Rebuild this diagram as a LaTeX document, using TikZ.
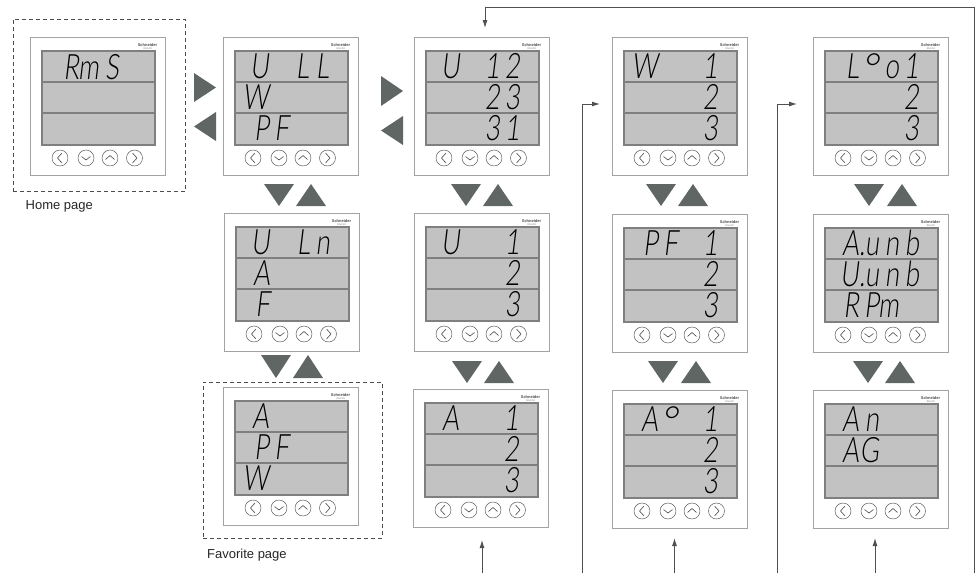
\documentclass[tikz,border=0pt]{standalone}
\usepackage{fontspec}
\usepackage{graphicx}
\setmainfont{Liberation Sans}
\newfontfamily\lcdfont[FakeSlant=0.12,FakeStretch=0.74]{Lato Light}
\usetikzlibrary{calc,arrows.meta}
\definecolor{tri}{HTML}{5F6664}
\definecolor{lcdfill}{HTML}{C2C2C2}
\definecolor{lcdline}{HTML}{7F7F7F}
\definecolor{panelline}{HTML}{A3A3A3}
\definecolor{flowline}{HTML}{505050}
\tikzset{
  panelbox/.style={draw=panelline,line width=0.9pt,fill=white,minimum width=135pt,minimum height=138pt,inner sep=0pt,outer sep=0pt,anchor=north west},
  lcdbox/.style={draw=lcdline,line width=1.3pt,fill=lcdfill,minimum width=113pt,minimum height=94pt,inner sep=0pt,outer sep=0pt},
  btn/.style={circle,draw=black!70,line width=0.45pt,fill=white,minimum size=16pt,inner sep=0pt},
  chev/.style={draw=black!70,line width=0.6pt},
  lcdtext/.style={inner sep=0pt,outer sep=0pt,anchor=base west,font=\lcdfont\fontsize{35}{35}\selectfont,text=black},
  logotop/.style={inner sep=0pt,font=\bfseries\fontsize{4}{4}\selectfont,text=black!70},
  logobot/.style={inner sep=0pt,font=\fontsize{2.6}{3}\selectfont,text=black!50},
  dashbox/.style={draw=black!70,line width=0.9pt,dash pattern=on 4pt off 3pt},
  caption/.style={inner sep=0pt,anchor=base west,font=\fontsize{13}{13}\selectfont,text=black!85},
  flow/.style={draw=flowline,line width=0.9pt,-{Latex[length=8pt,width=5pt]}},
}
\newcommand{\meter}[3]{%
  \node[panelbox] (#1) at (#2,#3) {};
  \node[lcdbox] (#1lcd) at ($(#1.north west)+(68.5,61)$) {};
  \draw[draw=lcdline,line width=1.2pt] ($(#1lcd.west)+(0,-16)$) -- ($(#1lcd.east)+(0,-16)$);
  \draw[draw=lcdline,line width=1.2pt] ($(#1lcd.west)+(0,15)$) -- ($(#1lcd.east)+(0,15)$);
  \node[logotop] (#1logoa) at ($(#1.north west)+(117.5,8)$) {Schneider};
  \node[logobot] (#1logob) at ($(#1.north west)+(118,11.5)$) {Electric};
  \node[btn] (#1ba) at ($(#1.north west)+(30,121)$) {};
  \node[btn] (#1bb) at ($(#1.north west)+(56,121)$) {};
  \node[btn] (#1bc) at ($(#1.north west)+(80,121)$) {};
  \node[btn] (#1bd) at ($(#1.north west)+(104.5,121)$) {};
  \draw[chev] ($(#1ba)+(2,-5)$) -- ($(#1ba)+(-2.5,0)$) -- ($(#1ba)+(2,5)$);
  \draw[chev] ($(#1bb)+(-4.5,-1.5)$) -- ($(#1bb)+(0,2)$) -- ($(#1bb)+(4.5,-1.5)$);
  \draw[chev] ($(#1bc)+(-4.5,1.5)$) -- ($(#1bc)+(0,-2.5)$) -- ($(#1bc)+(4.5,1.5)$);
  \draw[chev] ($(#1bd)+(-2,-5)$) -- ($(#1bd)+(2.5,0)$) -- ($(#1bd)+(-2,5)$);
}
\newcommand{\dgt}[1]{\makebox[20pt][r]{#1}}
% name, row id, dx, baseline dy, four cells
\newcommand{\lcdrow}[8]{%
  \node[lcdtext] (#1#2) at ($(#1.north west)+(#3,#4)$) {\dgt{#5}\dgt{#6}\dgt{#7}\dgt{#8}};
}
\newcommand{\rowa}[5]{\lcdrow{#1}{ra}{26}{41}{#2}{#3}{#4}{#5}}
\newcommand{\rowb}[5]{\lcdrow{#1}{rb}{26}{72}{#2}{#3}{#4}{#5}}
\newcommand{\rowc}[5]{\lcdrow{#1}{rc}{26}{103}{#2}{#3}{#4}{#5}}
\newcommand{\trdown}[4]{\fill[tri] (#1,#3) -- (#2,#3) -- ({(#1+#2)/2},#4) -- cycle;}
\newcommand{\trup}[4]{\fill[tri] (#1,#4) -- (#2,#4) -- ({(#1+#2)/2},#3) -- cycle;}
\newcommand{\trright}[4]{\fill[tri] (#1,#3) -- (#1,#4) -- (#2,{(#3+#4)/2}) -- cycle;}
\newcommand{\trleft}[4]{\fill[tri] (#2,#3) -- (#2,#4) -- (#1,{(#3+#4)/2}) -- cycle;}
\newcommand{\degsign}{\raisebox{-4pt}{\scalebox{1.6}[1.15]{°}}}
\begin{document}
\begin{tikzpicture}[x=1pt,y=-1pt]
\useasboundingbox (0,0) rectangle (977,573);
% dashed frames
\node[dashbox,minimum width=172.5pt,minimum height=172pt,inner sep=0pt,anchor=north west] (homeframe) at (12.5,19) {};
\node[dashbox,minimum width=179pt,minimum height=156pt,inner sep=0pt,anchor=north west] (favframe) at (203,382) {};
\node[caption] (homecap) at (25.5,209) {Home page};
\node[caption] (favcap) at (207,558) {Favorite page};
% meters
\meter{home}{30}{37}
\meter{ull}{223}{37}
\meter{uln}{224}{213}
\meter{fav}{223}{387}
\meter{uoo}{414}{37}
\meter{uo}{414}{213}
\meter{ao}{413}{389}
\meter{wo}{612}{37}
\meter{pfo}{612}{214}
\meter{ango}{612}{390}
\meter{loo}{813}{37}
\meter{unb}{813}{214}
\meter{an}{813}{390}
% display texts
\lcdrow{home}{ra}{29}{42}{R}{m}{S}{}
\rowa{ull}{U}{}{L}{L}\rowb{ull}{W}{}{}{}\rowc{ull}{P}{F}{}{}
\rowa{uln}{U}{}{L}{n}\rowb{uln}{A}{}{}{}\rowc{uln}{F}{}{}{}
\rowa{fav}{A}{}{}{}\rowb{fav}{P}{F}{}{}\rowc{fav}{W}{}{}{}
\rowa{uoo}{U}{}{1}{2}\rowb{uoo}{}{}{2}{3}\rowc{uoo}{}{}{3}{1}
\rowa{uo}{U}{}{}{1}\rowb{uo}{}{}{}{2}\rowc{uo}{}{}{}{3}
\rowa{ao}{A}{}{}{1}\rowb{ao}{}{}{}{2}\rowc{ao}{}{}{}{3}
\rowa{wo}{W}{}{}{1}\rowb{wo}{}{}{}{2}\rowc{wo}{}{}{}{3}
\rowa{pfo}{P}{F}{}{1}\rowb{pfo}{}{}{}{2}\rowc{pfo}{}{}{}{3}
\rowa{ango}{A}{\degsign}{}{1}\rowb{ango}{}{}{}{2}\rowc{ango}{}{}{}{3}
\rowa{loo}{L}{\degsign}{o}{1}\rowb{loo}{}{}{}{2}\rowc{loo}{}{}{}{3}
\rowa{unb}{A\rlap{.}}{u}{n}{b}\rowb{unb}{U\rlap{.}}{u}{n}{b}\rowc{unb}{R}{P}{m}{}
\rowa{an}{A}{n}{}{}\rowb{an}{A}{G}{}{}
% triangles
\trright{194}{216}{73}{102}\trleft{194}{216}{112}{141}
\trright{381}{403}{76}{106}\trleft{381}{403}{116}{145}
\trdown{264}{294}{184}{206}\trup{296}{326}{184}{206}
\trdown{451}{481}{184}{206}\trup{483}{513}{184}{206}
\trdown{261}{291}{355}{378}\trup{293}{323}{355}{378}
\trdown{452}{482}{361}{383}\trup{484}{514}{361}{383}
\trdown{646}{676}{184}{206}\trup{678}{708}{184}{206}
\trdown{648}{678}{361}{383}\trup{681}{711}{361}{383}
\trdown{854}{884}{184}{206}\trup{887}{917}{184}{206}
\trdown{853}{883}{361}{383}\trup{885}{915}{361}{383}
% connectors
\coordinate (startr) at (974,573);
\coordinate (cornerr) at (974,7);
\coordinate (cornert) at (485,7);
\draw[flow,shorten >=9pt] (startr) -- (cornerr) -- (cornert) -- (cornert |- uoo.north);
\coordinate (startw) at (582.7,573);
\draw[flow,shorten >=12pt] (startw) |- ($(wo.west)+(0,-2)$);
\coordinate (startl) at (777,573);
\draw[flow,shorten >=16pt] (startl) |- ($(loo.west)+(0,-2)$);
\coordinate (upa) at (482,573);
\draw[flow,shorten >=13pt] (upa) -- (upa |- ao.south);
\coordinate (upb) at (674.5,573);
\draw[flow,shorten >=10pt] (upb) -- (upb |- ango.south);
\coordinate (upc) at (875,573);
\draw[flow,shorten >=10pt] (upc) -- (upc |- an.south);
\end{tikzpicture}
\end{document}
